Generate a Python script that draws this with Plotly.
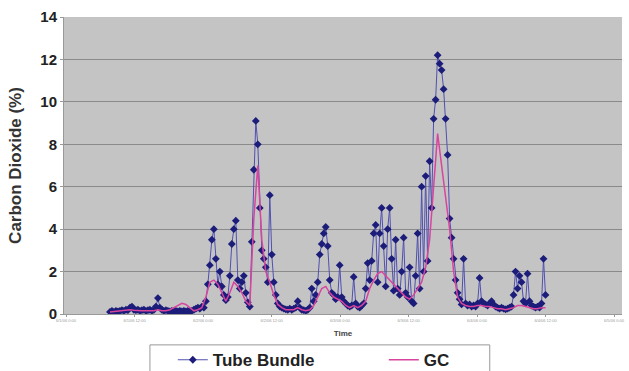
import plotly.graph_objects as go
from datetime import datetime, timedelta

# Tube Bundle CO2 (%) readings, regular sampling every 21 min
tube_bundle = [
    0.1, 0.15, 0.1, 0.15, 0.12, 0.15, 0.18, 0.15, 0.2, 0.18,
    0.3, 0.35, 0.2, 0.18, 0.2, 0.15, 0.18, 0.2, 0.15, 0.18,
    0.2, 0.15, 0.2, 0.35, 0.75, 0.3, 0.2, 0.15, 0.18, 0.15,
    0.12, 0.15, 0.12, 0.15, 0.12, 0.15, 0.12, 0.15, 0.12, 0.15,
    0.12, 0.15, 0.2, 0.25, 0.3, 0.25, 0.35, 0.3, 0.6, 1.4,
    2.3, 3.5, 4.0, 2.6, 1.4, 2.0, 1.3, 0.9, 0.65, 0.8,
    1.8, 3.3, 4.0, 4.4, 1.6, 1.2, 1.5, 1.8, 1.0, 0.55,
    0.35, 3.4, 6.8, 9.1, 8.0, 5.0, 3.0, 2.6, 2.2, 1.5,
    5.6, 2.8, 1.5, 0.9, 0.5, 0.35, 0.3, 0.25, 0.22, 0.2,
    0.25, 0.2, 0.25, 0.3, 0.6, 0.3, 0.2, 0.18, 0.15, 0.2,
    0.3, 1.2, 0.6, 0.9, 1.5, 2.8, 3.3, 3.8, 4.1, 3.2,
    1.6, 1.0, 0.9, 0.7, 0.8, 2.3, 0.8, 0.6, 0.5, 0.4,
    0.35, 0.4, 1.75, 0.5, 0.35, 0.3, 0.4, 0.5, 1.2, 2.4,
    1.6, 2.5, 3.8, 4.2, 1.5, 3.8, 5.0, 3.2, 1.3, 4.0,
    5.0, 2.6, 1.1, 3.5, 1.2, 0.9, 2.0, 3.6, 1.0, 0.8,
    2.2, 0.6, 0.5, 1.8, 3.8, 1.2, 6.0, 2.0, 6.5, 2.5,
    7.2, 5.0, 9.2, 10.1, 12.2, 11.8, 11.5, 10.6, 9.2, 7.5,
    4.5, 3.6, 2.6, 1.6, 1.0, 0.7, 0.45, 2.6, 0.5, 0.4,
    0.45, 0.35, 0.4, 0.35, 0.5, 1.7, 0.6, 0.5, 0.45, 0.4,
    0.5, 0.6, 0.45, 0.35, 0.3, 0.25, 0.3, 0.25, 0.22, 0.25,
    0.3, 0.35, 0.9, 2.0, 1.2, 1.8, 1.5, 0.6, 0.5, 1.9,
    0.6, 0.4, 0.35, 0.3, 0.35, 0.3, 0.5, 2.6, 0.9,
]

# GC CO2 (%) readings, regular sampling every 42 min
gc = [
    0.1, 0.12, 0.12, 0.15, 0.15, 0.2, 0.18, 0.15, 0.15, 0.15,
    0.15, 0.15, 0.2, 0.15, 0.15, 0.2, 0.3, 0.4, 0.5, 0.45,
    0.3, 0.15, 0.2, 0.3, 0.8, 1.5, 1.6, 1.4, 1.0, 0.6,
    1.0, 1.5, 1.3, 1.0, 0.6, 0.4, 4.5, 7.0, 3.5, 2.0,
    1.5, 0.9, 0.45, 0.3, 0.2, 0.2, 0.2, 0.3, 0.2, 0.15,
    0.2, 0.4, 0.8, 1.2, 1.3, 1.0, 0.8, 0.7, 0.6, 0.4,
    0.3, 0.4, 0.3, 0.4, 0.6, 1.2, 1.6, 1.9, 2.0, 1.8,
    1.6, 1.4, 1.2, 1.0, 0.8, 0.7, 0.9, 1.2, 1.5, 2.2,
    3.5, 6.0, 8.5, 7.0, 5.5, 4.0, 2.0, 0.8, 0.5, 0.4,
    0.35, 0.35, 0.4, 0.4, 0.35, 0.35, 0.3, 0.25, 0.25, 0.2,
    0.25, 0.3, 0.4, 0.4, 0.35, 0.3, 0.25, 0.25, 0.3, 0.3,
]

start = datetime(2006, 6, 1, 0, 0)
tb_start = start + timedelta(hours=7.7)
tb_times = [tb_start + timedelta(minutes=21 * i) for i in range(len(tube_bundle))]
gc_times = [tb_start + timedelta(minutes=42 * i) for i in range(len(gc))]

tick_vals = [start + timedelta(hours=12 * k) for k in range(9)]
tick_text = [f"{t.month}/{t.day}/{t:%y} {t.hour}:{t:%M}" for t in tick_vals]
y_ticks = [0, 2, 4, 6, 8, 10, 12, 14]

fig = go.Figure()
fig.add_trace(go.Scatter(
    x=tb_times, y=tube_bundle, name="<b>Tube Bundle</b>", mode="lines+markers",
    line=dict(color="#5050b0", width=1),
    marker=dict(symbol="diamond", size=6, color="#1c1c7a"),
))
fig.add_trace(go.Scatter(
    x=gc_times, y=gc, name="<b>GC</b>", mode="lines",
    line=dict(color="#d8449e", width=1.5),
))

# legend frame
fig.add_shape(type="rect", xref="paper", yref="paper",
              x0=0.154, x1=0.763, y0=-0.25, y1=-0.104,
              line=dict(color="#999", width=1), fillcolor="white", layer="below")

fig.update_layout(
    width=629, height=371,
    margin=dict(l=64, r=7, t=17, b=57, autoexpand=False),
    paper_bgcolor="white",
    plot_bgcolor="#c4c4c4",
    font=dict(family="Liberation Sans, Arial, sans-serif", color="#222"),
    xaxis=dict(
        range=[start - timedelta(hours=0.35), start + timedelta(hours=97.4)],
        tickvals=tick_vals, ticktext=tick_text,
        tickfont=dict(size=4, color="#999"),
        showgrid=False, zeroline=False,
        showline=True, linecolor="#999", linewidth=1,
        ticks="outside", ticklen=2, tickcolor="#999",
        title=dict(text="<b>Time</b>", font=dict(size=8, color="#444"), standoff=8),
    ),
    yaxis=dict(
        range=[0, 14], tickvals=y_ticks,
        ticktext=[f"<b>{v}</b>" for v in y_ticks],
        tickfont=dict(size=15, color="#222"),
        showgrid=True, gridcolor="#8a8a8a", gridwidth=1,
        zeroline=False, showline=True, linecolor="#999",
        ticks="outside", ticklen=3, tickcolor="#999",
        title=dict(text="<b>Carbon Dioxide (%)</b>", font=dict(size=17, color="#333"), standoff=14),
    ),
    legend=dict(
        orientation="h", x=0.195, xanchor="left", y=-0.095, yanchor="top",
        borderwidth=0, bgcolor="rgba(0,0,0,0)",
        font=dict(size=17, color="#222"),
        entrywidth=166,
        itemwidth=30,
    ),
)

fig.write_html("out.html")
